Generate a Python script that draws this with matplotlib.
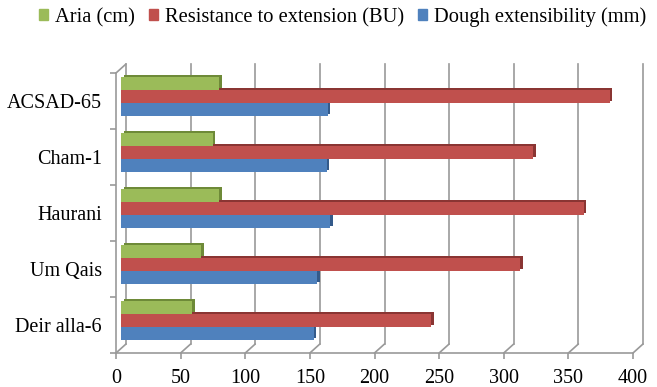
import matplotlib
matplotlib.use('Agg')
import matplotlib.pyplot as plt
import matplotlib.transforms as mtransforms
from matplotlib.patches import Patch
import numpy as np

plt.rcParams['font.family'] = ['Liberation Serif', 'DejaVu Serif']

varieties = ['Deir alla-6', 'Um Qais', 'Haurani', 'Cham-1', 'ACSAD-65']
dough_ext = [149, 152, 162, 159, 160]      # mm
resistance = [240, 309, 358, 319, 378]     # BU
aria = [55, 62, 76, 71, 76]                # cm
xticks = [0, 50, 100, 150, 200, 250, 300, 350, 400]

series = [
    ('Dough extensibility (mm)', dough_ext, '#4F81BD', '#345A8A', -1),
    ('Resistance to extension (BU)', resistance, '#C0504D', '#8A3533', 0),
    ('Aria (cm)', aria, '#9BBB59', '#6E8A38', 1),
]

fig = plt.figure(figsize=(6.57, 3.87), dpi=100)
ax = fig.add_axes([116 / 657, 34 / 387, 517 / 657, 280 / 387])
ax.set_xlim(0, 400)
ax.set_ylim(-0.5, 4.5)

grey = '#999999'
depth = (10, 9)  # pixels, oblique depth of the fake 3D box
dpi = fig.dpi

# back wall gridlines
back = ax.transData + mtransforms.ScaledTranslation(depth[0] / dpi, depth[1] / dpi, fig.dpi_scale_trans)
for xv in xticks:
    ax.plot([xv, xv], [-0.5, 4.5], color=grey, lw=1.2, transform=back, zorder=1, clip_on=False)
    # floor diagonals
    ax.annotate('', xy=(xv, -0.5), xytext=depth, textcoords='offset pixels',
                arrowprops=dict(arrowstyle='-', color=grey, lw=1.2, shrinkA=0, shrinkB=0),
                annotation_clip=False, zorder=1)
# top edge of the side wall
ax.annotate('', xy=(0, 4.5), xytext=depth, textcoords='offset pixels',
            arrowprops=dict(arrowstyle='-', color=grey, lw=1.2, shrinkA=0, shrinkB=0),
            annotation_clip=False, zorder=1)

# bars: front face at half depth, darker copy behind for the side/top faces
h = 0.232
ypos = np.arange(len(varieties))
mid = ax.transData + mtransforms.ScaledTranslation(5 / dpi, 4.5 / dpi, fig.dpi_scale_trans)
side = ax.transData + mtransforms.ScaledTranslation(7.5 / dpi, 6.5 / dpi, fig.dpi_scale_trans)
for name, vals, col, dark, k in series:
    ax.barh(ypos + k * h, vals, height=h, color=dark, transform=side, zorder=2, clip_on=False)
    ax.barh(ypos + k * h, vals, height=h, color=col, transform=mid, zorder=3, clip_on=False)

# front axes
for s in ['top', 'right']:
    ax.spines[s].set_visible(False)
for s in ['left', 'bottom']:
    ax.spines[s].set_color(grey)
    ax.spines[s].set_linewidth(1.2)
    ax.spines[s].set_zorder(0.5)

ax.set_xticks(xticks)
ax.set_xticklabels([str(v) for v in xticks])
ax.set_yticks(np.arange(-0.5, 5, 1.0))
ax.set_yticklabels([])
ax.set_yticks(ypos, minor=True)
ax.set_yticklabels(varieties, minor=True)
ax.tick_params(axis='x', direction='out', length=4.5, width=1.2, color=grey,
               labelsize=14.5, pad=7)
ax.tick_params(axis='y', which='major', direction='out', length=4.5, width=1.2, color=grey)
ax.tick_params(axis='y', which='minor', length=0, labelsize=14.5, pad=10)

handles = [Patch(color=c) for _, _, c, _, _ in reversed(series)]
labels = [n for n, _, _, _, _ in reversed(series)]
fig.legend(handles, labels, loc='center', bbox_to_anchor=(0.522, 0.955), ncol=3,
           frameon=False, fontsize=14.8, handlelength=0.44, handleheight=0.44,
           handletextpad=0.34, columnspacing=0.68, borderpad=0)

fig.savefig('out.png', dpi=100)
